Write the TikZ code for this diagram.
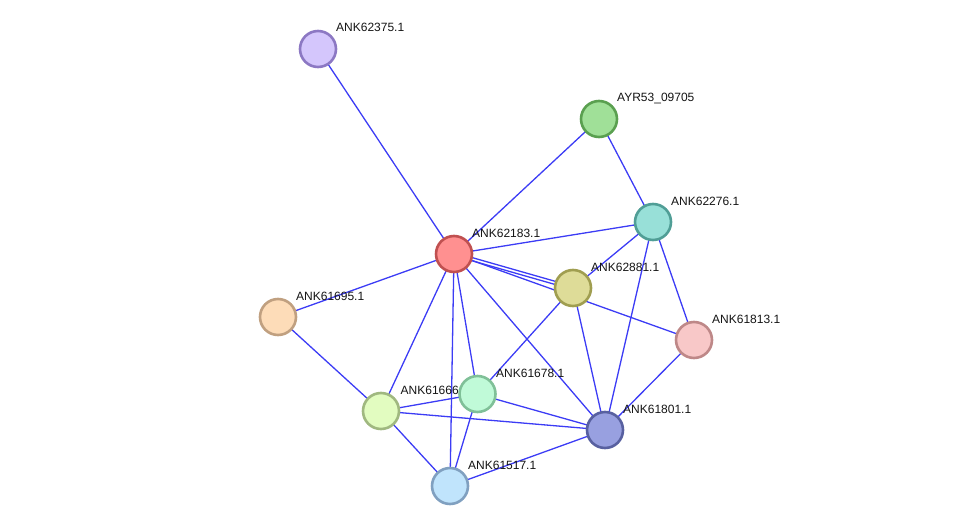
\documentclass[tikz,border=0pt]{standalone}
\usepackage{fontspec}
\setmainfont{Liberation Sans}
\begin{document}
\begin{tikzpicture}[x=1pt,y=-1pt,
  edge/.style={draw={rgb,255:red,60;green,60;blue,245}, line width=1.3pt},
  prot/.style={circle, minimum size=36pt, inner sep=0pt, line width=2.6pt},
  lab/.style={anchor=base west, font=\fontsize{12}{12}\selectfont, inner sep=0pt, text={rgb,255:red,20;green,20;blue,20}}]
\useasboundingbox (0,0) rectangle (976,532);
% coordinates
\coordinate (p375) at (318,49);
\coordinate (pAYR) at (599,119);
\coordinate (p276) at (653,222);
\coordinate (p183) at (454,254);
\coordinate (p881) at (573,288);
\coordinate (p695) at (278,317);
\coordinate (p813) at (694,340);
\coordinate (p678) at (477.5,394);
\coordinate (p666) at (381,411);
\coordinate (p801) at (605,430);
\coordinate (p517) at (450,486);
% edges
\foreach \a/\b in {p375/p183, pAYR/p183, pAYR/p276, p183/p276, p183/p813, p183/p695,
  p183/p666, p183/p517, p183/p678, p183/p801, p276/p881, p276/p813, p276/p801,
  p881/p678, p881/p801, p813/p801, p695/p666, p666/p678, p666/p801, p666/p517,
  p678/p801, p678/p517, p517/p801}
  \draw[edge] (\a) -- (\b);
\draw[edge] ([yshift=-1.6pt]p183) -- ([yshift=-1.6pt]p881);
\draw[edge] ([yshift=1.6pt]p183) -- ([yshift=1.6pt]p881);
% labels
\node[lab] (l375) at (336,32) {ANK62375.1};
\node[lab] (lAYR) at (617,102) {AYR53\_09705};
\node[lab] (l276) at (671,205) {ANK62276.1};
\node[lab] (l183) at (472,237) {ANK62183.1};
\node[lab] (l881) at (591,271) {ANK62881.1};
\node[lab] (l695) at (296,300) {ANK61695.1};
\node[lab] (l813) at (712,323) {ANK61813.1};
\node[lab] (l678) at (496,377) {ANK61678.1};
\node[lab] (l666) at (400.5,394) {ANK61666.1};
\node[lab] (l801) at (623,413) {ANK61801.1};
\node[lab] (l517) at (468,469) {ANK61517.1};
% nodes
\node[prot, draw={rgb,255:red,140;green,120;blue,195}, fill={rgb,255:red,212;green,198;blue,252}] (n375) at (p375) {};
\node[prot, draw={rgb,255:red,90;green,160;blue,80}, fill={rgb,255:red,160;green,224;blue,152}] (nAYR) at (pAYR) {};
\node[prot, draw={rgb,255:red,80;green,158;blue,150}, fill={rgb,255:red,152;green,224;blue,216}] (n276) at (p276) {};
\node[prot, draw={rgb,255:red,192;green,80;blue,80}, fill={rgb,255:red,255;green,144;blue,144}] (n183) at (p183) {};
\node[prot, draw={rgb,255:red,160;green,158;blue,80}, fill={rgb,255:red,222;green,220;blue,152}] (n881) at (p881) {};
\node[prot, draw={rgb,255:red,192;green,160;blue,128}, fill={rgb,255:red,253;green,220;blue,184}] (n695) at (p695) {};
\node[prot, draw={rgb,255:red,190;green,136;blue,136}, fill={rgb,255:red,248;green,200;blue,200}] (n813) at (p813) {};
\node[prot, draw={rgb,255:red,128;green,192;blue,152}, fill={rgb,255:red,192;green,250;blue,216}] (n678) at (p678) {};
\node[prot, draw={rgb,255:red,160;green,184;blue,128}, fill={rgb,255:red,226;green,252;blue,192}] (n666) at (p666) {};
\node[prot, draw={rgb,255:red,88;green,96;blue,160}, fill={rgb,255:red,152;green,160;blue,224}] (n801) at (p801) {};
\node[prot, draw={rgb,255:red,128;green,160;blue,192}, fill={rgb,255:red,192;green,228;blue,252}] (n517) at (p517) {};
\end{tikzpicture}
\end{document}
